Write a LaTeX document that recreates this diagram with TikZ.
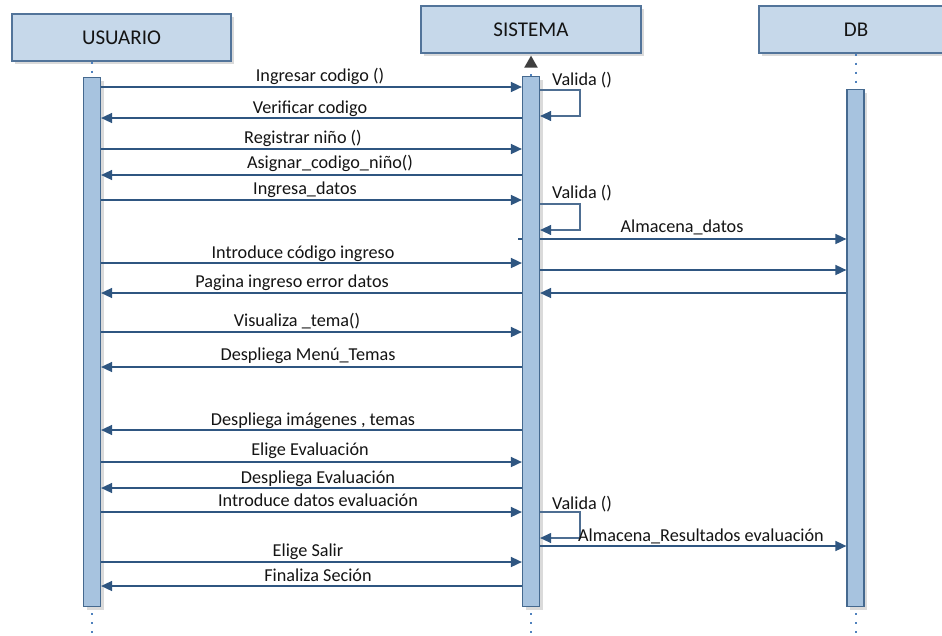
\documentclass[tikz,border=0pt]{standalone}
\usepackage{fontspec}
\setmainfont{Carlito}
\usetikzlibrary{arrows.meta,shadows}

\definecolor{headfill}{HTML}{C6D8EA}
\definecolor{headline}{HTML}{52749A}
\definecolor{barfill}{HTML}{A7C3DF}
\definecolor{barline}{HTML}{45698F}
\definecolor{msgline}{HTML}{2F5681}
\definecolor{loopline}{HTML}{4E6E92}
\definecolor{lifedot}{HTML}{4F81BD}
\definecolor{shade}{HTML}{DADADA}
\definecolor{ink}{HTML}{141414}
\definecolor{tipgray}{HTML}{3F3F3F}

\begin{document}
\begin{tikzpicture}[x=1pt,y=-1pt,
  boxshadow/.style={drop shadow={shadow xshift=3pt, shadow yshift=-3pt, fill=shade, opacity=1}},
  head/.style={draw=headline, fill=headfill, line width=1.2pt, inner sep=0pt,
    text=ink, font=\fontsize{21}{24}\selectfont, boxshadow},
  actbar/.style={draw=barline, fill=barfill, line width=1.2pt, minimum width=17pt,
    inner sep=0pt, anchor=north, boxshadow},
  msg/.style={draw=msgline, line width=1.6pt, -{Triangle[length=11pt,width=10pt]}},
  plainmsg/.style={draw=msgline, line width=1.6pt},
  selfmsg/.style={draw=loopline, line width=1.2pt, -{Triangle[length=11pt,width=10pt,color=msgline]}},
  lbl/.style={text=ink, font=\fontsize{18.2}{20}\selectfont, anchor=base, inner sep=0pt},
  life/.style={draw=lifedot, line width=2pt, dash pattern=on 2pt off 7pt},
]
\useasboundingbox (0,0) rectangle (942,635);
\fill[white] (0,0) rectangle (942,635);

% ---------- participants ----------
\node[head, minimum width=219pt, minimum height=47pt] (usuario) at (121.5,37.5) {USUARIO};
\node[head, minimum width=220pt, minimum height=47pt] (sistema) at (531,29.5) {SISTEMA};
\node[head, minimum width=194pt, minimum height=47pt] (db) at (856,29.5) {DB};

% ---------- activation bars ----------
\node[actbar, minimum height=529pt] (ubar) at (92,77) {};
\node[actbar, minimum height=530pt] (sbar) at (531,76) {};
\node[actbar, minimum height=517pt] (dbar) at (855.5,89) {};

% ---------- lifelines ----------
\coordinate (uend) at (92,636);
\coordinate (send) at (531,636);
\coordinate (dend) at (855.5,636);
\draw[life] (usuario.south -| ubar.north) -- (ubar.north);
\draw[life] (db.south -| dbar.north) -- (dbar.north);
\draw[life, dash phase=0pt, shorten >=2pt,
  -{Triangle[length=12pt,width=13pt,color=tipgray]}] (sbar.north) -- (sistema.south);
\draw[life, dash phase=-6pt] (ubar.south) -- (uend);
\draw[life, dash phase=-6pt] (sbar.south) -- (send);
\draw[life, dash phase=-6pt] (dbar.south) -- (dend);

% ---------- messages ----------
\draw[msg] (ubar.east |- 0,87) -- (sbar.west |- 0,87);
\node[lbl] (m1) at (320,81) {Ingresar codigo ()};

\draw[selfmsg] (sbar.east |- 0,90) -- (580,90) -- (580,116) -- (sbar.east |- 0,116);
\node[lbl, anchor=base west] (v1) at (552,85) {Valida ()};

\draw[msg] (sbar.west |- 0,118) -- (ubar.east |- 0,118);
\node[lbl] (m2) at (310,113) {Verificar codigo};

\draw[msg] (ubar.east |- 0,149) -- (sbar.west |- 0,149);
\node[lbl] (m3) at (303,143) {Registrar niño ()};

\draw[msg] (sbar.west |- 0,175) -- (ubar.east |- 0,175);
\node[lbl] (m4) at (330,168) {Asignar\_codigo\_niño()};

\draw[msg] (ubar.east |- 0,200) -- (sbar.west |- 0,200);
\node[lbl] (m5) at (305,194) {Ingresa\_datos};

\draw[selfmsg] (sbar.east |- 0,204) -- (580,204) -- (580,230) -- (sbar.east |- 0,230);
\node[lbl, anchor=base west] (v2) at (552,198) {Valida ()};

\draw[plainmsg] (sbar.west |- 0,239) -- ++(-4,0);
\draw[msg] (sbar.east |- 0,239) -- (dbar.west |- 0,239);
\node[lbl] (m6) at (682,232) {Almacena\_datos};

\draw[msg] (ubar.east |- 0,263) -- (sbar.west |- 0,263);
\node[lbl] (m7) at (303,258) {Introduce código ingreso};

\draw[msg] (sbar.east |- 0,270) -- (dbar.west |- 0,270);
\draw[msg] (dbar.west |- 0,293) -- (sbar.east |- 0,293);

\draw[msg] (sbar.west |- 0,293) -- (ubar.east |- 0,293);
\node[lbl] (m8) at (292,287) {Pagina ingreso error datos};

\draw[msg] (ubar.east |- 0,332) -- (sbar.west |- 0,332);
\node[lbl] (m9) at (297,326) {Visualiza \_tema()};

\draw[msg] (sbar.west |- 0,367) -- (ubar.east |- 0,367);
\node[lbl] (m10) at (308,360) {Despliega Menú\_Temas};

\draw[msg] (sbar.west |- 0,430) -- (ubar.east |- 0,430);
\node[lbl] (m11) at (313,425) {Despliega imágenes , temas};

\draw[msg] (ubar.east |- 0,462) -- (sbar.west |- 0,462);
\node[lbl] (m12) at (310,455) {Elige Evaluación};

\draw[msg] (sbar.west |- 0,488) -- (ubar.east |- 0,488);
\node[lbl] (m13) at (318,483) {Despliega Evaluación};

\draw[msg] (ubar.east |- 0,512) -- (sbar.west |- 0,512);
\node[lbl] (m14) at (318,506) {Introduce datos evaluación};

\draw[selfmsg] (sbar.east |- 0,512) -- (580,512) -- (580,538) -- (sbar.east |- 0,538);
\node[lbl, anchor=base west] (v3) at (552,509) {Valida ()};

\draw[msg] (sbar.east |- 0,546) -- (dbar.west |- 0,546);
\node[lbl] (m15) at (701,541) {Almacena\_Resultados evaluación};

\draw[msg] (ubar.east |- 0,562) -- (sbar.west |- 0,562);
\node[lbl] (m16) at (308,556) {Elige Salir};

\draw[msg] (sbar.west |- 0,586) -- (ubar.east |- 0,586);
\node[lbl] (m17) at (318,581) {Finaliza Seción};

\end{tikzpicture}
\end{document}
